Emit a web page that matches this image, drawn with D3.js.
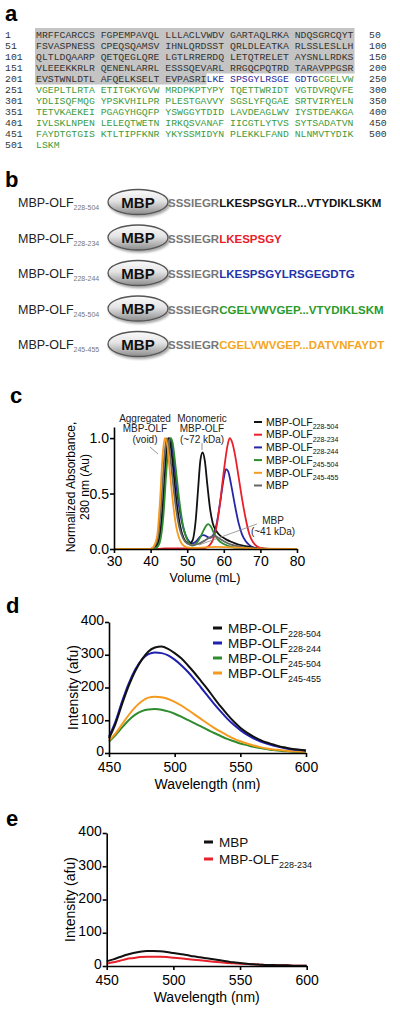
<!DOCTYPE html>
<html><head><meta charset="utf-8">
<script src="https://cdn.jsdelivr.net/npm/d3@7"></script>
<style>
html,body{margin:0;padding:0;background:#fff;}
svg{display:block;}
</style></head><body>
<svg id="fig" width="400" height="1011"></svg>
<script>
// ---------------- DATA ----------------
// Panel a: sequence
const seqStarts = [1, 51, 101, 151, 201, 251, 301, 351, 401, 451, 501];
const seqEnds = [50, 100, 150, 200, 250, 300, 350, 400, 450, 500, null];
const seqRows = [
  "MRFFCARCCS FGPEMPAVQL LLLACLVWDV GARTAQLRKA NDQSGRCQYT",
  "FSVASPNESS CPEQSQAMSV IHNLQRDSST QRLDLEATKA RLSSLESLLH",
  "QLTLDQAARP QETQEGLQRE LGTLRRERDQ LETQTRELET AYSNLLRDKS",
  "VLEEEKKRLR QENENLARRL ESSSQEVARL RRGQCPQTRD TARAVPPGSR",
  "EVSTWNLDTL AFQELKSELT EVPASRILKE SPSGYLRSGE GDTGCGELVW",
  "VGEPLTLRTA ETITGKYGVW MRDPKPTYPY TQETTWRIDT VGTDVRQVFE",
  "YDLISQFMQG YPSKVHILPR PLESTGAVVY SGSLYFQGAE SRTVIRYELN",
  "TETVKAEKEI PGAGYHGQFP YSWGGYTDID LAVDEAGLWV IYSTDEAKGA",
  "IVLSKLNPEN LELEQTWETN IRKQSVANAF IICGTLYTVS SYTSADATVN",
  "FAYDTGTGIS KTLTIPFKNR YKYSSMIDYN PLEKKLFAND NLNMVTYDIK",
  "LSKM"
];
const blueFrom = 228, greenFrom = 245;

// Panel b: constructs
const constructRanges = ["228-504", "228-234", "228-244", "245-504", "245-455"];
const linkerSeq = "SSSIEGR";
const constructSeqs = ["LKESPSGYLR...VTYDIKLSKM", "LKESPSGY", "LKESPSGYLRSGEGDTG",
                       "CGELVWVGEP...VTYDIKLSKM", "CGELVWVGEP...DATVNFAYDT"];

// Panel c: SEC traces [volume mL, normalized absorbance]
const sec228_504 = [[30,0],[40,0],[41,0.01],[42,0.05],[43,0.25],[43.8,0.6],[44.4,0.9],[44.9,1.0],[45.4,0.95],[46,0.78],[47,0.45],[48,0.22],[49,0.1],[50,0.055],[50.7,0.05],[51.5,0.08],[52.3,0.25],[53,0.55],[53.6,0.8],[54.2,0.87],[54.8,0.8],[55.5,0.58],[56.3,0.35],[57,0.23],[58,0.16],[59,0.12],[60,0.1],[61,0.08],[62,0.065],[64,0.04],[66,0.025],[68,0.012],[70,0.005],[75,0],[80,0]];
const sec228_234 = [[30,0],[42,0],[44,0.005],[54,0.005],[55,0.01],[56,0.03],[57,0.08],[58,0.2],[59,0.42],[60,0.7],[61,0.93],[61.6,1.0],[62.3,0.96],[63,0.86],[64,0.66],[65,0.45],[66,0.27],[67,0.13],[68,0.06],[69,0.025],[70,0.01],[72,0],[80,0]];
const sec228_244 = [[30,0],[40,0],[41,0.01],[42,0.05],[43,0.25],[43.8,0.62],[44.5,0.92],[45.2,1.0],[45.8,0.95],[46.5,0.75],[47.5,0.45],[48.5,0.25],[49.5,0.13],[50.5,0.07],[51.5,0.05],[52.5,0.07],[53.5,0.11],[54.5,0.125],[55.5,0.11],[56.3,0.1],[57,0.12],[58,0.22],[59,0.42],[60,0.64],[60.6,0.72],[61.2,0.7],[62,0.58],[63,0.4],[64,0.24],[65,0.13],[66,0.07],[67,0.035],[68,0.015],[70,0.005],[72,0],[80,0]];
const sec245_504 = [[30,0],[40,0],[41.5,0.01],[42.5,0.06],[43.5,0.3],[44.3,0.7],[45,0.95],[45.5,1.0],[46,0.96],[46.8,0.75],[47.8,0.45],[48.8,0.22],[49.8,0.1],[50.8,0.04],[51.5,0.03],[52.5,0.05],[53.5,0.1],[54.5,0.17],[55.3,0.215],[55.8,0.225],[56.5,0.2],[57.5,0.13],[58.5,0.08],[60,0.045],[62,0.02],[65,0.008],[70,0],[80,0]];
const sec245_455 = [[30,0],[40,0],[40.8,0.02],[41.8,0.12],[42.6,0.45],[43.3,0.85],[43.9,1.0],[44.5,0.95],[45.2,0.72],[46,0.45],[47,0.2],[48,0.08],[49,0.03],[50,0.015],[52,0.01],[55,0.015],[58,0.02],[62,0.015],[66,0.008],[70,0.003],[80,0]];
const secMBP = [[30,0],[40,0],[41,0.02],[42,0.1],[43,0.45],[43.8,0.85],[44.4,1.0],[45,0.94],[45.8,0.7],[46.8,0.4],[47.8,0.2],[48.8,0.1],[50,0.05],[51.5,0.035],[53,0.045],[55,0.08],[56.5,0.11],[57.5,0.12],[58.5,0.1],[60,0.07],[62,0.04],[64,0.025],[66,0.012],[68,0.005],[70,0],[80,0]];

const secTicksX = [30, 40, 50, 60, 70, 80];
const secTicksY = [0, 0.5, 1.0];

// Panel d/e: fluorescence spectra
const wavelengths = [450,455,460,465,470,475,480,485,490,495,500,505,510,515,520,525,530,535,540,545,550,555,560,565,570,575,580,585,590,595,600];
const fl228_504 = [45,90,150,205,250,285,310,322,325,318,305,289,268,245,220,195,168,142,118,96,77,62,50,40,32,26,20,16,12,10,8];
const fl228_244 = [50,97,158,212,255,285,302,307,305,298,285,268,248,225,200,175,150,127,105,86,70,56,45,36,29,23,18,14,11,9,7];
const fl245_504 = [35,55,78,100,117,128,133,134,132,127,120,111,101,91,81,71,61,52,43,36,29,24,19,15,12,9,7,5,4,3,2];
const fl245_455 = [38,60,88,116,140,158,169,172,170,165,156,145,132,118,104,90,77,65,54,44,36,29,23,18,14,11,9,7,5,4,3];
const flMBP     = [14,20,27,34,39,43,45,45,44,42,39,36,33,29,26,23,20,17,14,11,9,7,5,4,3,3,2,2,1,1,1];
const fl228_234 = [7,11,16,21,24,27,28,28,28,27,25,23,21,19,17,15,13,11,9,8,7,6,5,4,3,3,2,2,1,1,1];
const flTicksX = [450, 500, 550, 600];
const flTicksY = [0, 100, 200, 300, 400];

// ---------------- DRAWING ----------------
const SANS = '"Liberation Sans", Arial, Helvetica, sans-serif';
const MONO = '"Liberation Mono", "Courier New", monospace';
const C = {black:"#111111", red:"#e8202a", blue:"#2626a8", green:"#2e8b2e", orange:"#f59a1e", gray:"#666666"};
const svg = d3.select("#fig").attr("font-family", SANS);

const defs = svg.append("defs");
const grad = defs.append("linearGradient").attr("id","mbpGrad").attr("x1",0).attr("y1",0).attr("x2",0).attr("y2",1);
grad.append("stop").attr("offset","0%").attr("stop-color","#fbfbfb");
grad.append("stop").attr("offset","45%").attr("stop-color","#e4e4e4");
grad.append("stop").attr("offset","100%").attr("stop-color","#8c8c8c");
const filt = defs.append("filter").attr("id","shadow").attr("x","-20%").attr("y","-30%").attr("width","150%").attr("height","170%");
filt.append("feDropShadow").attr("dx",1.5).attr("dy",2).attr("stdDeviation",1.2).attr("flood-color","#000").attr("flood-opacity",0.35);

// panel letters
[["a",5,21],["b",5,187],["c",10,403],["d",6,613],["e",6,826]].forEach(([t,x,y]) => {
  svg.append("text").attr("x",x).attr("y",y).attr("font-size",22).attr("font-weight","bold").attr("fill","#000").text(t);
});

// ---- Panel a ----
const cw = 5.88, seqFs = 9.8, seqX = 36, rowY0 = 37.5, rowDy = 11;
const gA = svg.append("g");
(function(){
  let count = 0, res = seqStarts[4] - 1;
  for (const ch of seqRows[4]) { if (ch !== " ") { res++; if (res >= blueFrom) break; } count++; }
  const top = rowY0 - 9.5, midY = rowY0 + 3*rowDy + 3, bot = rowY0 + 4*rowDy + 3;
  const xL = seqX - 1, xR = seqX + seqRows[0].length*cw + 1, xM = seqX + count*cw;
  const p = d3.path();
  p.moveTo(xL, top); p.lineTo(xR, top); p.lineTo(xR, midY); p.lineTo(xM, midY); p.lineTo(xM, bot); p.lineTo(xL, bot); p.closePath();
  gA.append("path").attr("d", p.toString()).attr("fill","#c4c4c4");
})();
seqRows.forEach((row, i) => {
  const by = rowY0 + i*rowDy;
  gA.append("text").attr("x",5).attr("y",by).attr("font-family",MONO).attr("font-size",seqFs).attr("fill","#333").text(seqStarts[i]);
  if (seqEnds[i] !== null) gA.append("text").attr("x",369).attr("y",by).attr("font-family",MONO).attr("font-size",seqFs).attr("fill","#333").text(seqEnds[i]);
  let res = seqStarts[i] - 1; const segs = []; let cur = null;
  for (const ch of row) {
    let col;
    if (ch === " ") col = cur ? cur.col : "#333";
    else { res++; col = res < blueFrom ? "#333" : (res < greenFrom ? "#2a2a9c" : "#3d9b3d"); }
    if (!cur || cur.col !== col) { cur = {col, txt:""}; segs.push(cur); }
    cur.txt += ch;
  }
  const t = gA.append("text").attr("x",seqX).attr("y",by).attr("font-family",MONO).attr("font-size",seqFs).style("white-space","pre");
  segs.forEach(s => t.append("tspan").attr("fill",s.col).text(s.txt));
});

// ---- Panel b ----
const bColors = [C.black, C.red, "#2233aa", "#2a9a2a", "#f5a623"];
constructRanges.forEach((r, i) => {
  const by = 207 + i*35.5;
  const lab = svg.append("text").attr("x",18).attr("y",by).attr("font-size",12.5).attr("fill","#222");
  lab.append("tspan").text("MBP-OLF");
  lab.append("tspan").attr("dy",3).attr("font-size",7).attr("fill","#777").text(r);
  svg.append("ellipse").attr("cx",138).attr("cy",by-5).attr("rx",30).attr("ry",12.5)
    .attr("fill","url(#mbpGrad)").attr("stroke","#555").attr("stroke-width",1.3).attr("filter","url(#shadow)");
  svg.append("text").attr("x",138).attr("y",by+0.5).attr("text-anchor","middle").attr("font-size",15).attr("font-weight","bold").attr("fill","#111").text("MBP");
  const s = svg.append("text").attr("x",168).attr("y",by).attr("font-size",11.5).attr("font-weight","bold");
  s.append("tspan").attr("fill","#777").text(linkerSeq);
  s.append("tspan").attr("fill",bColors[i]).text(constructSeqs[i]);
});

// ---- helpers ----
function styleAxis(g, fs) {
  g.attr("font-family", SANS);
  g.selectAll("path.domain").attr("stroke","#000").attr("stroke-width",1.6);
  g.selectAll(".tick line").attr("stroke","#000").attr("stroke-width",1.6);
  g.selectAll(".tick text").attr("font-family",SANS).attr("font-size",fs).attr("fill","#000");
}
function legend(items, x0, len, tx, ys, fs, subFs, lw) {
  items.forEach((it, i) => {
    svg.append("line").attr("x1",x0).attr("x2",x0+len).attr("y1",ys[i]).attr("y2",ys[i]).attr("stroke",it.color).attr("stroke-width",lw);
    const t = svg.append("text").attr("x",tx).attr("y",ys[i]+fs*0.36).attr("font-size",fs).attr("fill","#111");
    t.append("tspan").text(it.name);
    if (it.sub) t.append("tspan").attr("dy",fs*0.3).attr("font-size",subFs).text(it.sub);
  });
}

// ---- Panel c ----
const xC = d3.scaleLinear().domain([30,80]).range([114,297]);
const yC = d3.scaleLinear().domain([0,1.1]).range([549,427]);
const lineC = d3.line().x(d => xC(d[0])).y(d => yC(d[1])).curve(d3.curveMonotoneX);
const secSeries = [
  {data:sec228_244, color:C.blue},
  {data:sec228_504, color:C.black},
  {data:sec228_234, color:C.red},
  {data:sec245_504, color:C.green},
  {data:secMBP, color:C.gray},
  {data:sec245_455, color:C.orange}
];
secSeries.forEach(s => svg.append("path").attr("d", lineC(s.data)).attr("fill","none").attr("stroke",s.color).attr("stroke-width",1.8));
const gxc = svg.append("g").attr("transform","translate(0,549)")
  .call(d3.axisBottom(xC).tickValues(secTicksX).tickSize(4).tickSizeOuter(0).tickPadding(3));
styleAxis(gxc, 14);
const gyc = svg.append("g").attr("transform","translate(114,0)")
  .call(d3.axisLeft(yC).tickValues(secTicksY).tickFormat(d3.format(".1f")).tickSize(4).tickSizeOuter(0).tickPadding(1));
styleAxis(gyc, 14);
svg.append("text").attr("x",205).attr("y",582).attr("text-anchor","middle").attr("font-size",12.5).text("Volume (mL)");
svg.append("text").attr("transform","translate(75,487) rotate(-90)").attr("text-anchor","middle").attr("font-size",12).text("Normalized Absorbance,");
svg.append("text").attr("transform","translate(89,487) rotate(-90)").attr("text-anchor","middle").attr("font-size",12).text("280 nm (Au)");
function annot(lines, cx, y0, dy) {
  lines.forEach((l, i) => svg.append("text").attr("x",cx).attr("y",y0+i*dy).attr("text-anchor","middle").attr("font-size",10).attr("fill","#222").text(l));
}
annot(["Aggregated","MBP-OLF","(void)"], 145, 421.5, 10.5);
annot(["Monomeric","MBP-OLF","(~72 kDa)"], 202, 421.5, 10.5);
annot(["MBP","(~41 kDa)"], 273, 523.5, 11.5);
svg.append("line").attr("x1",150).attr("y1",447).attr("x2",158).attr("y2",454).attr("stroke","#777").attr("stroke-width",0.8);
svg.append("line").attr("x1",202).attr("y1",443).attr("x2",202).attr("y2",450).attr("stroke","#777").attr("stroke-width",0.8);
svg.append("line").attr("x1",199).attr("y1",545).attr("x2",257).attr("y2",524).attr("stroke","#888").attr("stroke-width",0.8);
legend([
  {name:"MBP-OLF", sub:constructRanges[0], color:C.black},
  {name:"MBP-OLF", sub:constructRanges[1], color:C.red},
  {name:"MBP-OLF", sub:constructRanges[2], color:C.blue},
  {name:"MBP-OLF", sub:constructRanges[3], color:C.green},
  {name:"MBP-OLF", sub:constructRanges[4], color:C.orange},
  {name:"MBP", sub:null, color:C.gray}
], 254, 8, 266, [422,434.7,447.4,460.1,472.8,485.5], 10.5, 7, 2);

// ---- Panel d / e ----
function spectra(xr, yr, series, yTitleX, xTitleY) {
  const x = d3.scaleLinear().domain([450,600]).range(xr);
  const y = d3.scaleLinear().domain([0,400]).range(yr);
  const ln = d3.line().x((d,i) => x(wavelengths[i])).y(d => y(d)).curve(d3.curveMonotoneX);
  series.forEach(s => svg.append("path").attr("d", ln(s.data)).attr("fill","none").attr("stroke",s.color).attr("stroke-width",2));
  const gx = svg.append("g").attr("transform",`translate(0,${yr[0]})`)
    .call(d3.axisBottom(x).tickValues(flTicksX).tickSize(4).tickSizeOuter(0).tickPadding(5));
  styleAxis(gx, 14);
  const gy = svg.append("g").attr("transform",`translate(${xr[0]},0)`)
    .call(d3.axisLeft(y).tickValues(flTicksY).tickSize(4).tickSizeOuter(0).tickPadding(1));
  styleAxis(gy, 14);
  gy.selectAll(".tick text").attr("dy","0.2em");
  svg.append("text").attr("x",(xr[0]+xr[1])/2).attr("y",xTitleY).attr("text-anchor","middle").attr("font-size",14).text("Wavelength (nm)");
  svg.append("text").attr("transform",`translate(${yTitleX},${(yr[0]+yr[1])/2}) rotate(-90)`).attr("text-anchor","middle").attr("font-size",14).text("Intensity (afu)");
}
spectra([109,306],[753,622], [
  {data:fl245_504, color:C.green},
  {data:fl245_455, color:C.orange},
  {data:fl228_244, color:"#2020b0"},
  {data:fl228_504, color:C.black}
], 78, 789);
legend([
  {name:"MBP-OLF", sub:constructRanges[0], color:C.black},
  {name:"MBP-OLF", sub:constructRanges[2], color:"#2020b0"},
  {name:"MBP-OLF", sub:constructRanges[3], color:C.green},
  {name:"MBP-OLF", sub:constructRanges[4], color:C.orange}
], 213, 9, 228, [628,643,658,673], 13.5, 9, 3);

spectra([106.7,306.7],[966,833], [
  {data:fl228_234, color:C.red},
  {data:flMBP, color:C.black}
], 75, 1002);
legend([
  {name:"MBP", sub:null, color:C.black},
  {name:"MBP-OLF", sub:constructRanges[1], color:C.red}
], 204, 9, 219, [842,859], 13.5, 9, 3);
</script>
</body></html>
